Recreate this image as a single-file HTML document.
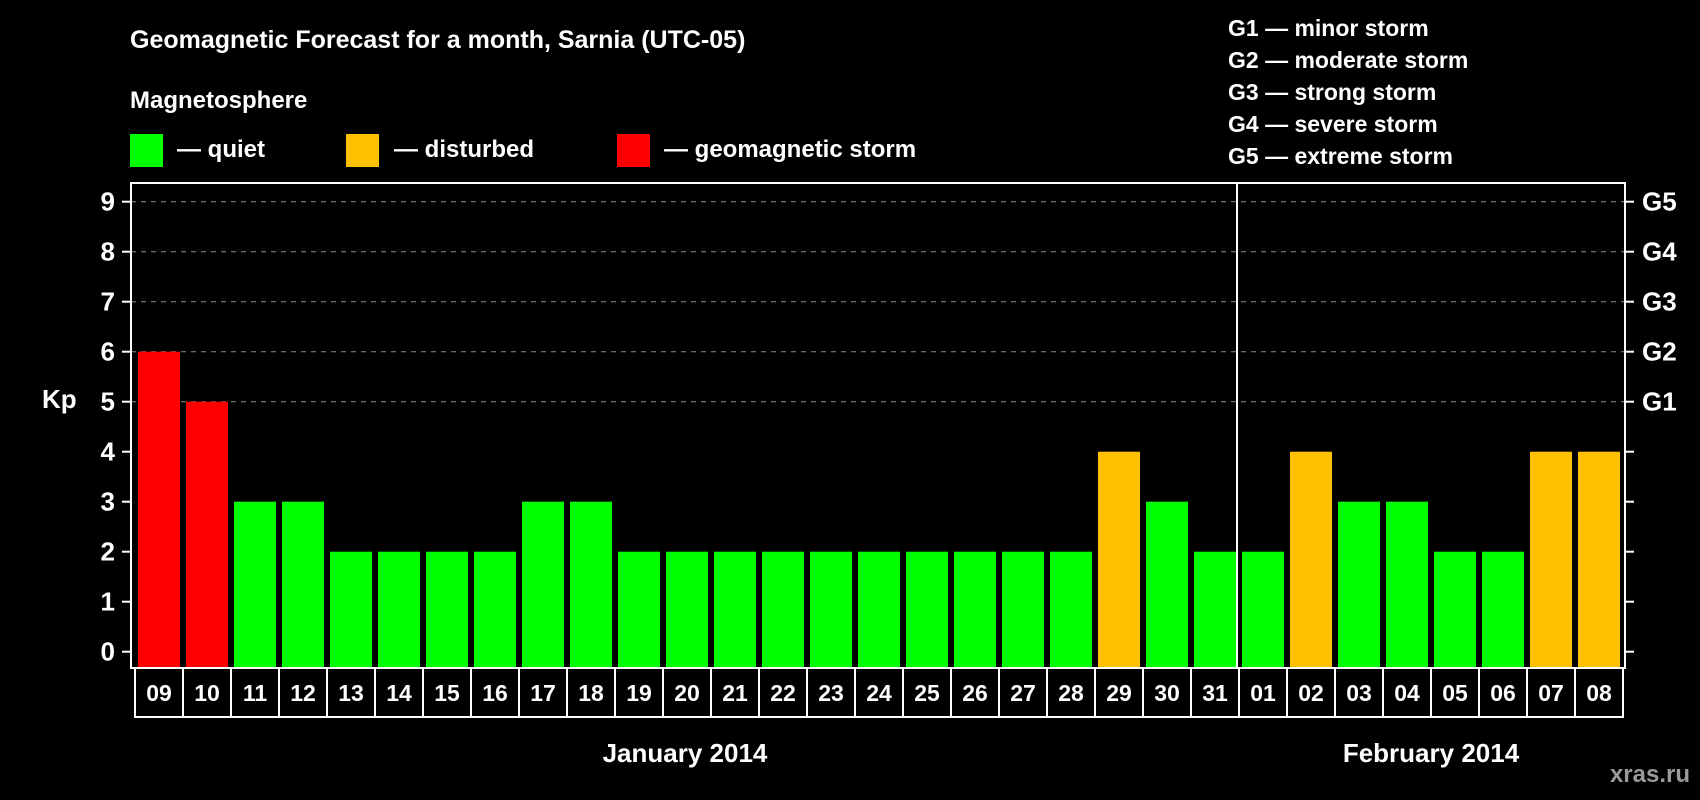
<!DOCTYPE html>
<html><head><meta charset="utf-8"><style>
html,body{margin:0;padding:0;background:#000;width:1700px;height:800px;overflow:hidden}
svg text{font-family:"Liberation Sans",Arial,sans-serif;font-weight:bold;fill:#fff}
</style></head><body>
<svg id="chart" width="1700" height="800" viewBox="0 0 1700 800" xmlns="http://www.w3.org/2000/svg">
<rect width="1700" height="800" fill="#000"/>
<text x="130" y="48" font-size="25">Geomagnetic Forecast for a month, Sarnia (UTC-05)</text>
<text x="130" y="108" font-size="24">Magnetosphere</text>
<g><rect x="130" y="134" width="33" height="33" fill="#00ff00"/><text x="177" y="157" font-size="24">— quiet</text></g>
<g><rect x="346" y="134" width="33" height="33" fill="#ffc000"/><text x="394" y="157" font-size="24">— disturbed</text></g>
<g><rect x="617" y="134" width="33" height="33" fill="#ff0000"/><text x="664" y="157" font-size="24">— geomagnetic storm</text></g>
<g font-size="23">
<text x="1228" y="36">G1 — minor storm</text>
<text x="1228" y="68">G2 — moderate storm</text>
<text x="1228" y="100">G3 — strong storm</text>
<text x="1228" y="132">G4 — severe storm</text>
<text x="1228" y="164">G5 — extreme storm</text>
</g>
<g id="grid"></g><g id="bars"></g><g id="axes"></g>
<text x="42" y="408" font-size="26">Kp</text>
<text x="685" y="762" font-size="26" text-anchor="middle">January 2014</text>
<text x="1431" y="762" font-size="26" text-anchor="middle">February 2014</text>
<text x="1690" y="782" font-size="24" text-anchor="end" style="fill:#9a9a9a">xras.ru</text>
</svg>
<script>
const dayLabels = ["09","10","11","12","13","14","15","16","17","18","19","20","21","22","23","24","25","26","27","28","29","30","31","01","02","03","04","05","06","07","08"];
const kpValues = [6,5,3,3,2,2,2,2,3,3,2,2,2,2,2,2,2,2,2,2,4,3,2,2,4,3,3,2,2,4,4];
const yTicks = [0,1,2,3,4,5,6,7,8,9];
const gLevels = ["G1","G2","G3","G4","G5"];
const monthSplitIndex = 23;

const NS = "http://www.w3.org/2000/svg";
const L = 131, R = 1625, T = 183, B = 668;
const y = v => 651.7 - v * 50;
const xCell = i => 135 + i * 48;
function mk(tag, attrs, parent){const e=document.createElementNS(NS,tag);for(const k in attrs)e.setAttribute(k,attrs[k]);parent.appendChild(e);return e;}
const grid=document.getElementById('grid'), bars=document.getElementById('bars'), axes=document.getElementById('axes');
function color(v){return v>=5?"#ff0000":(v>=4?"#ffc000":"#00ff00");}

gLevels.forEach((g,k)=>{
  const v=5+k;
  const ln=mk('line',{x1:L,x2:R,y1:y(v),y2:y(v),stroke:'#8c8c8c','stroke-width':1,'stroke-dasharray':'5,5'},grid);
  
  
  const t=mk('text',{x:1642,y:y(v)+9,'font-size':26},axes);t.textContent=g;
  
  
});
kpValues.forEach((v,i)=>{
  const r=mk('rect',{x:xCell(i)+3,y:y(v),width:42,height:B-y(v),fill:color(v)},bars);
  
  
  const c=mk('rect',{x:xCell(i),y:B,width:48,height:49,fill:'#000',stroke:'#fff','stroke-width':2},axes);
  
  
  const t=mk('text',{x:xCell(i)+24,y:B+33,'font-size':23,'text-anchor':'middle'},axes);t.textContent=dayLabels[i];
  
  
});
const fr=mk('rect',{x:L,y:T,width:R-L,height:B-T,fill:'none',stroke:'#fff','stroke-width':2},axes);


const dv=mk('line',{x1:xCell(monthSplitIndex)-2,x2:xCell(monthSplitIndex)-2,y1:T,y2:B,stroke:'#fff','stroke-width':2},axes);


yTicks.forEach(v=>{
  const a=mk('line',{x1:122,x2:L,y1:y(v),y2:y(v),stroke:'#fff','stroke-width':2},axes);
  
  
  const b=mk('line',{x1:R,x2:1634,y1:y(v),y2:y(v),stroke:'#fff','stroke-width':2},axes);
  
  
  const t=mk('text',{x:115,y:y(v)+9,'font-size':26,'text-anchor':'end'},axes);t.textContent=v;
  
  
});
</script>
</body></html>
